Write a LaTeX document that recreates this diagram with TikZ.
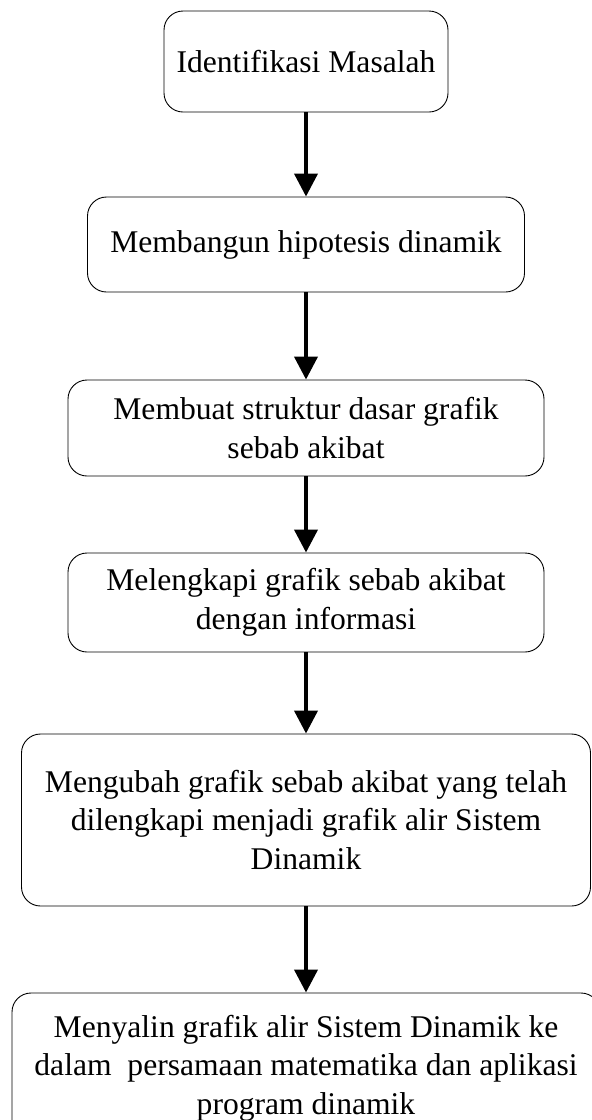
\documentclass[tikz,border=0pt]{standalone}
\usepackage{fontspec}
\setmainfont{Liberation Serif}
\usetikzlibrary{arrows.meta}

\tikzset{
  stepbox/.style={draw=black, line width=0.9pt, rounded corners=19pt,
    inner sep=0pt, align=center, font=\fontsize{31.6}{38.6}\selectfont},
  flow/.style={line width=4pt, -{Triangle[width=23pt,length=23pt]}}
}

\begin{document}
\begin{tikzpicture}[x=1pt, y=-1pt]
  \useasboundingbox (0,0) rectangle (592,1120);

  % process steps, top to bottom
  \node[stepbox, minimum width=284pt, minimum height=101pt] (s1) at (306,61.5)
    {Identifikasi Masalah};
  \node[stepbox, minimum width=437pt, minimum height=95pt] (s2) at (306,244.5)
    {Membangun hipotesis dinamik};
  \node[stepbox, minimum width=476pt, minimum height=96pt] (s3) at (306,428)
    {Membuat struktur dasar grafik\\sebab akibat};
  \node[stepbox, minimum width=476pt, minimum height=99pt] (s4) at (306,602.5)
    {Melengkapi grafik sebab akibat\\dengan informasi};
  \node[stepbox, minimum width=569pt, minimum height=172pt] (s5) at (306,820)
    {Mengubah grafik sebab akibat yang telah\\dilengkapi menjadi grafik alir Sistem\\Dinamik};
  \node[stepbox, minimum width=588pt, minimum height=150pt] (s6) at (306,1068)
    {Menyalin grafik alir Sistem Dinamik ke\\dalam\ \ persamaan matematika dan aplikasi\\program dinamik};

  % connectors
  \draw[flow] (s1.south) -- (s2.north);
  \draw[flow] (s2.south) -- (s3.north);
  \draw[flow] (s3.south) -- (s4.north);
  \draw[flow] (s4.south) -- (s5.north);
  \draw[flow] (s5.south) -- (s6.north);
\end{tikzpicture}
\end{document}
